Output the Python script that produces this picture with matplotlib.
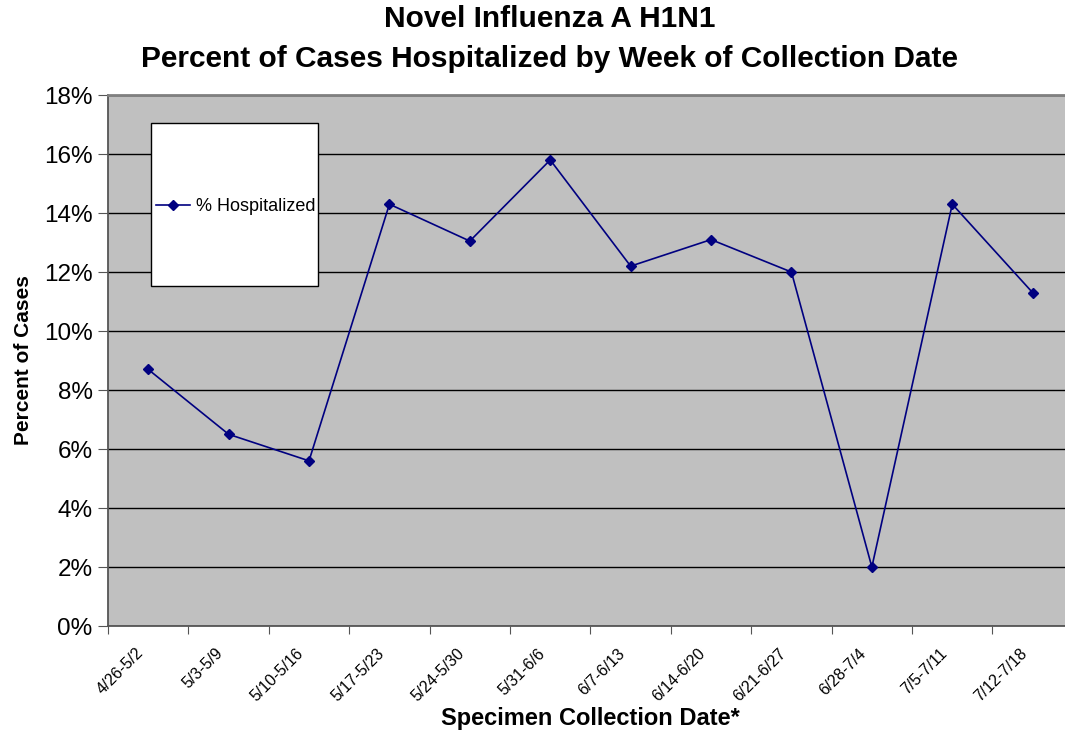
import numpy as np
import matplotlib.pyplot as plt
from matplotlib.patches import Rectangle
from matplotlib.transforms import ScaledTranslation

plt.rcParams['font.family'] = ['Liberation Sans', 'DejaVu Sans']

weeks = ['4/26-5/2', '5/3-5/9', '5/10-5/16', '5/17-5/23', '5/24-5/30', '5/31-6/6',
         '6/7-6/13', '6/14-6/20', '6/21-6/27', '6/28-7/4', '7/5-7/11', '7/12-7/18']
pct_hosp = [8.7, 6.5, 5.6, 14.3, 13.05, 15.8, 12.2, 13.1, 12.0, 2.0, 14.3, 11.3]

fig = plt.figure(figsize=(10.65, 7.34), dpi=100)
ax = fig.add_axes([0.1014, 0.1471, 0.906, 0.7234])
ax.set_facecolor('#c0c0c0')

x = np.arange(len(weeks))
ax.plot(x, pct_hosp, color='#000080', marker='D', markersize=5,
        linewidth=1.2, label='% Hospitalized', zorder=3)

ax.set_xlim(-0.5, len(weeks) - 0.5)
ax.set_ylim(0, 18)
ax.set_yticks(np.arange(0, 19, 2))
ax.set_yticklabels([f'{v}%' for v in range(0, 19, 2)], fontsize=17.5)
ax.yaxis.grid(True, color='black', linewidth=1.0)
ax.set_axisbelow(True)

ax.set_xticks(np.arange(-0.5, len(weeks), 1), minor=False)
ax.set_xticklabels([])
ax.set_xticks(x, minor=True)
ax.set_xticklabels(weeks, minor=True, rotation=45, ha='right', rotation_mode='anchor',
                   fontsize=11.5)
ax.tick_params(axis='x', which='minor', length=0, pad=14)
ax.tick_params(axis='x', which='major', length=6, color='#555555')
ax.tick_params(axis='y', length=7, color='#555555', pad=4)
# nudge the rotated labels left, like the original
shift = ScaledTranslation(-0.13, 0.0, fig.dpi_scale_trans)
for lab in ax.get_xticklabels(minor=True):
    lab.set_transform(lab.get_transform() + shift)

ax.spines['right'].set_visible(False)
ax.spines['top'].set_color('#808080')
ax.spines['top'].set_linewidth(2)
for s in ['left', 'bottom']:
    ax.spines[s].set_color('#555555')
    ax.spines[s].set_linewidth(1.3)

fig.text(0.554, 1 - 718 / 734, 'Specimen Collection Date*', fontsize=17,
         fontweight='bold', ha='center', va='center')
ax.set_ylabel('Percent of Cases', fontsize=15, fontweight='bold', labelpad=8)
fig.text(0.516, 0.993, 'Novel Influenza A H1N1\nPercent of Cases Hospitalized by Week of Collection Date',
         fontsize=21.5, fontweight='bold', ha='center', va='top', linespacing=1.55)

box = Rectangle((0.0446, 0.640), 0.173, 0.307, transform=ax.transAxes,
                facecolor='white', edgecolor='black', linewidth=1, zorder=4)
ax.add_patch(box)
leg = ax.legend(loc='center left', bbox_to_anchor=(0.033, 0.790), frameon=False,
                fontsize=13, handlelength=1.9, handletextpad=0.3)
leg.set_zorder(5)

fig.savefig('out.png', dpi=100)
